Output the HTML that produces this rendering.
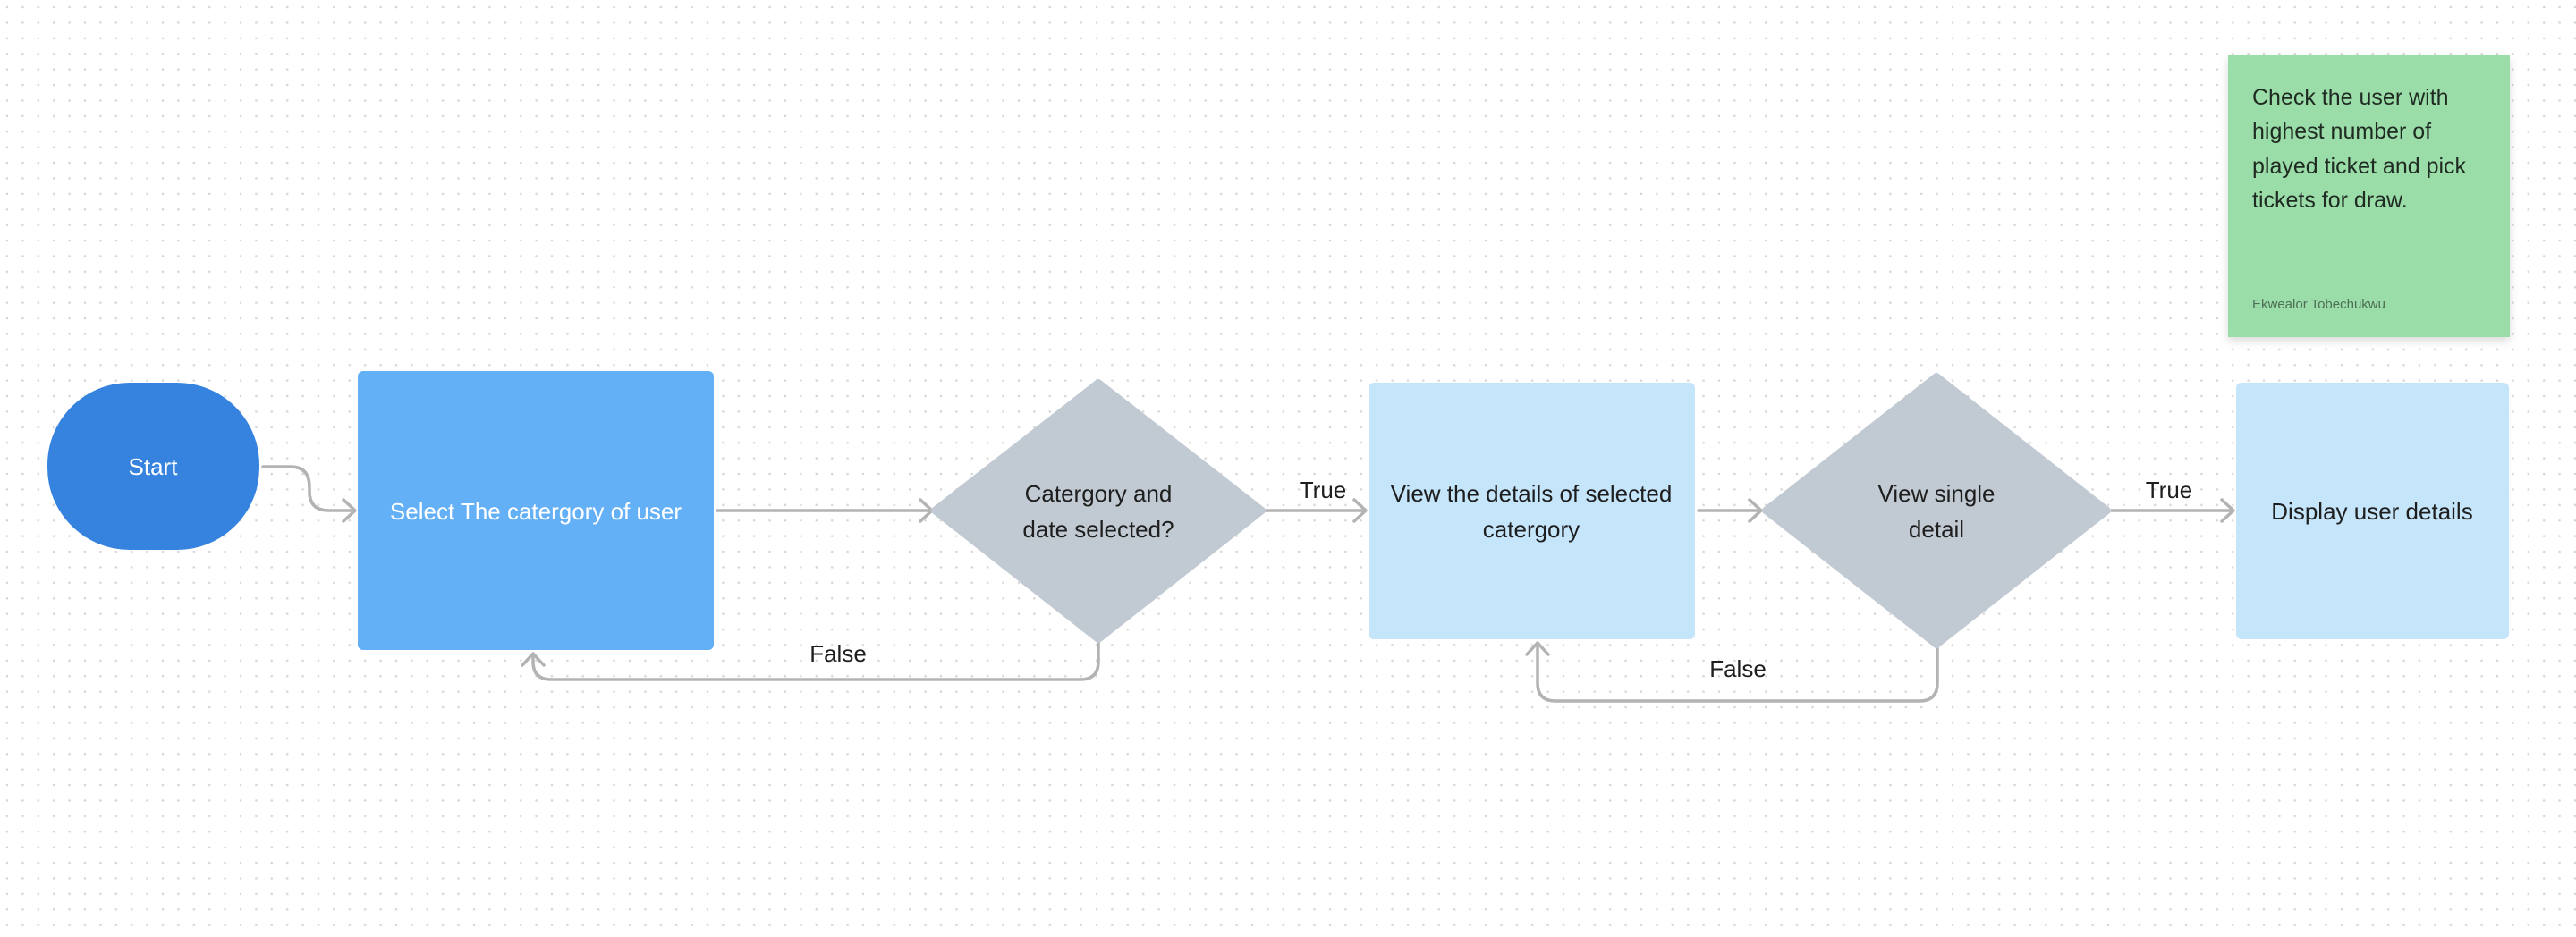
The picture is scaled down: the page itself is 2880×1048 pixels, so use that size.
<!DOCTYPE html>
<html><head><meta charset="utf-8"><style>
html,body{margin:0;padding:0;background:#fff;}
svg{display:block;font-family:"Liberation Sans",sans-serif;}
</style></head><body>
<svg width="2880" height="1048" viewBox="0 0 2880 1048" xmlns="http://www.w3.org/2000/svg">
<defs>
<pattern id="dots" x="6" y="6" width="17.4" height="17.4" patternUnits="userSpaceOnUse">
<circle cx="2" cy="2" r="1.3" fill="#d6d6d6"/>
</pattern>
<filter id="sh" x="-10%" y="-10%" width="130%" height="130%"><feDropShadow dx="0" dy="4" stdDeviation="5" flood-color="#000" flood-opacity="0.15"/></filter>
</defs>
<rect width="2880" height="1048" fill="#fff"/>
<rect width="2880" height="1048" fill="url(#dots)"/>

<!-- connectors -->
<g fill="none" stroke="#b3b3b3" stroke-width="3.5" stroke-linecap="round" stroke-linejoin="round">
<path d="M294 522 H325 Q346 522 346 545 V550 Q346 571 368 571 H396"/>
<path d="M384 559 L397 571 L384 583"/>
<path d="M802 571 H1041"/><path d="M1029 559 L1042 571 L1029 583"/>
<path d="M1415 571 H1526"/><path d="M1514 559 L1527 571 L1514 583"/>
<path d="M1228 718 V740 Q1228 760 1208 760 H616 Q596 760 596 740 V732"/><path d="M584 744 L596 731 L608 744"/>
<path d="M1899 571 H1968"/><path d="M1956 559 L1969 571 L1956 583"/>
<path d="M2361 571 H2496"/><path d="M2484 559 L2497 571 L2484 583"/>
<path d="M2166 724 V764 Q2166 784 2146 784 H1739 Q1719 784 1719 764 V720"/><path d="M1707 732 L1719 719 L1731 732"/>
</g>

<!-- shapes -->
<rect x="53" y="428" width="237" height="187" rx="92" fill="#3583de"/>
<rect x="400" y="415" width="398" height="312" rx="6" fill="#64b0f6"/>
<path d="M1228 428 L1411 571 L1228 715 L1045 571 Z" fill="#c1cad3" stroke="#c1cad3" stroke-width="8" stroke-linejoin="round"/>
<rect x="1530" y="428" width="365" height="287" rx="6" fill="#c5e5fa"/>
<path d="M2165 421 L2356 571 L2165 721 L1974 571 Z" fill="#c1cad3" stroke="#c1cad3" stroke-width="8" stroke-linejoin="round"/>
<rect x="2500" y="428" width="305" height="287" rx="6" fill="#c5e5fa"/>
<rect x="2491" y="62" width="315" height="315" fill="#9bdda8" filter="url(#sh)"/>

<!-- text -->
<g font-size="26" text-anchor="middle" fill="#1e1e1e">
<text x="171" y="531" fill="#fff">Start</text>
<text x="599" y="581" fill="#fff">Select The catergory of user</text>
<text x="1228" y="561">Catergory and</text>
<text x="1228" y="601">date selected?</text>
<text x="1712" y="561">View the details of selected</text>
<text x="1712" y="601">catergory</text>
<text x="2165" y="561">View single</text>
<text x="2165" y="601">detail</text>
<text x="2652" y="581">Display user details</text>
<text x="1479" y="557">True</text>
<text x="2425" y="557">True</text>
<text x="937" y="740">False</text>
<text x="1943" y="757">False</text>
</g>
<g font-size="25" fill="#1f2a22">
<text x="2518" y="117">Check the user with</text>
<text x="2518" y="155">highest number of</text>
<text x="2518" y="194">played ticket and pick</text>
<text x="2518" y="232">tickets for draw.</text>
</g>
<text x="2518" y="345" font-size="15" fill="#4d6e55">Ekwealor Tobechukwu</text>
</svg>
</body></html>
